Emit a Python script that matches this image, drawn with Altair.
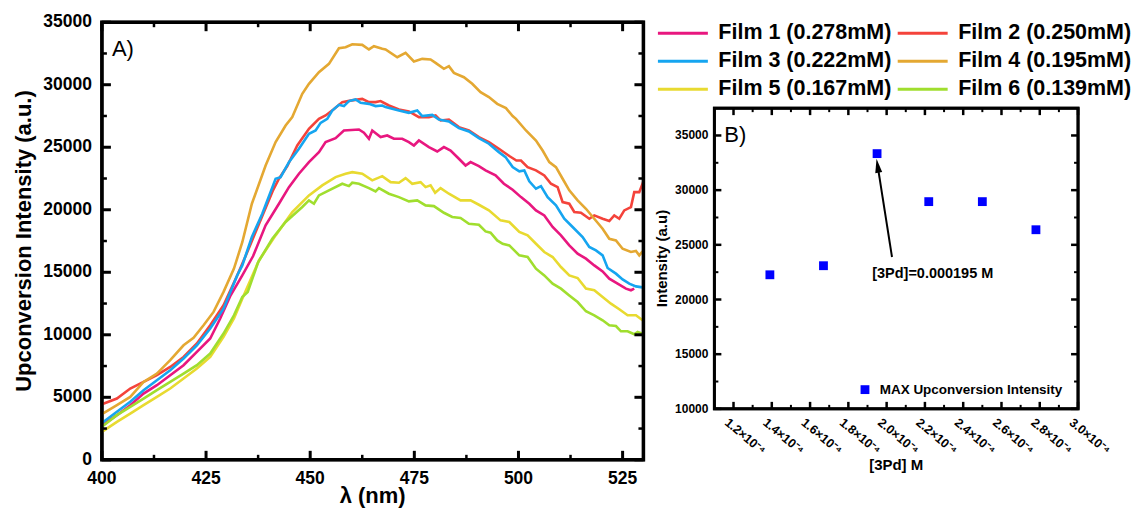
import altair as alt
import pandas as pd

FONT = "Liberation Sans"

films = ["Film 1 (0.278mM)", "Film 2 (0.250mM)", "Film 3 (0.222mM)",
         "Film 4 (0.195mM)", "Film 5 (0.167mM)", "Film 6 (0.139mM)"]
film_colors = ["#E8177F", "#F4433B", "#15A5F0", "#E4A832", "#E8DA30", "#A0DE2E"]

f1_wl = [400, 403.6, 406.8, 410, 413.2, 416.4, 419.6, 422.8, 426, 428.4,
         430.9, 433.7, 436.3, 439.3, 442.5, 444.9, 447.3, 449.7, 452.1, 453.7,
         456.1, 458.1, 461.7, 462.9, 464.1, 464.9, 466.9, 468.5, 470.1, 472.1,
         473.7, 474.9, 476.1, 478.5, 480.5, 482.1, 483.7, 485.7, 487.3, 488.5,
         490.5, 492.1, 494.5, 496.5, 498.6, 500.6, 502.6, 504.2, 506.2, 508.2,
         510.2, 512.2, 514.2, 516.2, 518.2, 520.2, 521.8, 523.8, 525.8, 527.0,
         527.8]
f1_int = [2750, 3570, 4370, 5300, 5970, 6770, 7570, 8630, 9700, 11300,
          13160, 14750, 16300, 18750, 20480, 21810, 22880, 23810, 24610, 25410,
          25730, 26340, 26420, 26160, 25680, 26340, 25810, 25940, 25680, 25680,
          25410, 25140, 25540, 25010, 24660, 25010, 24740, 24080, 23540, 23810,
          23490, 23150, 22750, 22080, 21600, 21010, 20480, 19950, 19550, 18620,
          17950, 17150, 16490, 16090, 15550, 15070, 14490, 14090, 13690, 13560,
          13690]

f2_wl = [400, 403.6, 406.8, 410, 413.2, 416.4, 419.6, 422.8, 426, 429.2,
         432.5, 434.5, 436.5, 438.5, 441, 442.5, 444.5, 446.9, 449.7, 452.1,
         453.7, 455.5, 457.7, 460, 462.5, 464.1, 465.7, 466.9, 468.9, 471.3,
         473.7, 476.1, 478.5, 480.1, 481.3, 483.3, 485.7, 488.1, 490.5, 492.9,
         495.3, 497.8, 499.5, 500.6, 502.2, 504.2, 506.2, 507.8, 509.4, 510.6,
         512.2, 513.4, 515, 517, 518.2, 520.2, 521.8, 523, 524.2, 525.4,
         527, 527.8, 529, 530]
f2_int = [4450, 4900, 5700, 6230, 6770, 7430, 8230, 9300, 10760, 12360,
          14760, 16300, 17900, 19500, 21500, 22480, 23500, 25140, 26470, 27270,
          27540, 28000, 28610, 28750, 28870, 28610, 28610, 28690, 28340, 28020,
          27860, 27410, 27410, 27540, 27140, 27220, 26610, 26340, 25810, 25410,
          24880, 24300, 23940, 23940, 23410, 23150, 22750, 22080, 21810, 20610,
          20480, 19820, 19760, 19280, 19550, 19280, 19100, 19550, 19280, 19950,
          20210, 21410, 21410, 22270]

f3_wl = [400, 403.6, 406.8, 410, 413.2, 416.4, 419.6, 422.8, 426, 429.2,
         432.5, 433.7, 436, 438.5, 441.7, 442.9, 444.9, 447.3, 449.7, 451.3,
         452.5, 454.1, 455.3, 456.9, 458.1, 459.3, 460.9, 462.1, 464.1, 465.7,
         467.3, 468.1, 471.3, 473.7, 475.7, 476.9, 479.3, 480.9, 483.3, 485.7,
         488.1, 490.5, 492.9, 495.3, 496.9, 498.6, 500.2, 501.4, 502.6, 504.2,
         505.4, 507, 509, 511, 513, 515.4, 517, 518.6, 520.2, 521.4,
         523.4, 525, 526.6, 528.2, 529.8]
f3_int = [2950, 3840, 4640, 5570, 6370, 7170, 8100, 9160, 10500, 12090,
          14760, 15550, 17820, 19680, 22480, 22610, 23810, 24880, 26080, 26340,
          26950, 27270, 27940, 28390, 28290, 28690, 28820, 28550, 28470, 28290,
          28340, 28210, 27940, 27750, 27940, 27490, 27590, 27220, 27060, 26530,
          26260, 25730, 25280, 24610, 24210, 23410, 23070, 23150, 22270, 21680,
          21890, 21010, 20350, 19280, 18620, 17820, 17020, 16750, 16350, 15340,
          14890, 14430, 14090, 13870, 13790]

f4_wl = [400, 403.6, 406.8, 410, 413.2, 416.4, 419.6, 422, 424.4, 426.8,
         429.2, 431.7, 433.7, 436, 439.3, 441.7, 444.1, 445.7, 448.1, 449.7,
         452.1, 454.5, 456.9, 458.5, 460.1, 462.5, 464.1, 465.3, 467.3, 468.1,
         470.9, 472.9, 474.9, 476.9, 478.9, 480.1, 482.1, 483.3, 484.5, 486.9,
         488.9, 490.9, 492.9, 494.9, 497, 498.6, 499.4, 501.8, 504.2, 505.8,
         507.4, 509, 510.6, 512.2, 514.2, 516.2, 518.2, 520.2, 521.8, 523.4,
         525, 527, 528.2, 529, 529.8]
f4_int = [3650, 4370, 5030, 6230, 6900, 7970, 9160, 9750, 10760, 11830,
          13430, 15290, 17400, 20480, 23540, 25410, 26740, 27410, 29270, 30070,
          31000, 31670, 32920, 33000, 33240, 33190, 32820, 33080, 32870, 32820,
          32200, 32550, 31860, 32070, 32020, 31750, 31270, 31480, 30950, 30600,
          30070, 29410, 29010, 28470, 28130, 27490, 27270, 26340, 25540, 24740,
          23810, 23410, 22480, 21550, 20750, 20080, 19280, 18480, 17680, 17550,
          16880, 16620, 16700, 16350, 16670]

f5_wl = [400, 403.6, 406.8, 410, 413.2, 416.4, 419.6, 422.8, 426, 429.2,
         431.7, 433.7, 437.7, 441.7, 445.7, 449.7, 452.9, 456.1, 458.5, 460.1,
         462.5, 464.9, 467.3, 469.3, 471.3, 472.9, 474.5, 476.5, 477.7, 478.9,
         480, 481.3, 483.3, 486.1, 488.5, 490.5, 492.9, 495.7, 497.8, 500.2,
         502.2, 504.2, 506.2, 508.2, 510.2, 512.2, 514.2, 516.2, 518.2, 520.2,
         522.2, 524.2, 526.2, 528.2, 529.8]
f5_int = [2240, 3040, 3700, 4370, 5030, 5700, 6500, 7300, 8230, 9830,
          11300, 12890, 15950, 17950, 19820, 21150, 21950, 22610, 22880, 23010,
          22880, 22350, 22690, 22210, 22160, 22530, 22080, 22210, 21810, 21950,
          21360, 21730, 21280, 20750, 20750, 20400, 19950, 19150, 19020, 18220,
          17950, 17280, 16620, 16220, 15420, 14750, 14540, 13690, 13560, 13020,
          12490, 12040, 11560, 11560, 11160]

f6_wl = [400, 403.6, 406.8, 410, 413.2, 416.4, 419.6, 422.8, 426, 429.2,
         431.7, 433.7, 435, 437.5, 440.9, 444.1, 448.1, 449.7, 450.9, 452.1,
         454.5, 457.7, 459.3, 460.1, 461.7, 464.1, 465.7, 466.5, 468.9, 471.3,
         473.7, 475.7, 477.7, 479.7, 482.1, 484.1, 486.1, 488.1, 490.5, 492.1,
         493.3, 494.9, 496.2, 497.8, 500.2, 502.2, 504.2, 506.2, 508.2, 510.2,
         512.2, 514.2, 516.2, 518.2, 520.2, 521.8, 523.4, 524.6, 526.2, 527.8,
         528.6, 529.8]
f6_int = [2640, 3570, 4240, 4900, 5570, 6230, 6900, 7570, 8500, 10100,
          11560, 13020, 13430, 15800, 17680, 19020, 20220, 20750, 20480, 21150,
          21550, 22080, 21890, 22160, 22080, 21730, 21470, 21730, 21280, 21010,
          20670, 20750, 20350, 20290, 19760, 19420, 19340, 18880, 18800, 18270,
          18160, 17550, 17280, 17150, 16350, 16220, 15290, 14750, 14090, 13690,
          13150, 12620, 11880, 11560, 11160, 10760, 10700, 10280, 10280, 10040,
          10220, 10090]

# Panel B data
b_conc = [1.39e-4, 1.67e-4, 1.95e-4, 2.22e-4, 2.50e-4, 2.78e-4]
b_int = [22260, 23090, 33340, 28950, 28950, 26380]
b_series = "MAX Upconversion Intensity"

# axis domains, tick values and axis texts
a_xdom = [400, 530]
a_ydom = [0, 35000]
b_xdom = [1.1e-4, 3.0e-4]
b_ydom = [10000, 37500]
a_xmajor = [400, 425, 450, 475, 500, 525]
a_xminor = [412.5, 437.5, 462.5, 487.5, 512.5]
a_ymajor = [0, 5000, 10000, 15000, 20000, 25000, 30000, 35000]
a_yminor = [2500, 7500, 12500, 17500, 22500, 27500, 32500]
b_xmajor = [1.2e-4, 1.4e-4, 1.6e-4, 1.8e-4, 2.0e-4, 2.2e-4, 2.4e-4, 2.6e-4, 2.8e-4, 3.0e-4]
b_xminor = [1.3e-4, 1.5e-4, 1.7e-4, 1.9e-4, 2.1e-4, 2.3e-4, 2.5e-4, 2.7e-4, 2.9e-4]
b_ymajor = [10000, 15000, 20000, 25000, 30000, 35000]
b_yminor = [12500, 17500, 22500, 27500, 32500]
a_xtitle = "λ (nm)"
a_ytitle = "Upconversion Intensity (a.u.)"
b_xtitle = "[3Pd] M"
b_ytitle = "Intensity (a.u)"

# annotation values (data coordinates)
arrow_tail_x = [2.028e-4]
arrow_tail_y = [23887]
arrow_head_x = [1.9529e-4]
arrow_head_y = [32237]
note_x = [1.9247e-4]
note_y = [22361]
note_text = ["[3Pd]=0.000195 M"]
labelA = {"x": [402.4], "y": [32843], "t": ["A)"]}
labelB = {"x": [1.152e-4], "y": [35033], "t": ["B)"]}

# ---------------- build data frames ----------------
rows = []
for name, wl, iv in zip(films, [f1_wl, f2_wl, f3_wl, f4_wl, f5_wl, f6_wl],
                        [f1_int, f2_int, f3_int, f4_int, f5_int, f6_int]):
    for w, v in zip(wl, iv):
        rows.append({"film": name, "wl": w, "I": v})
dfA = pd.DataFrame(rows)
dfB = pd.DataFrame({"conc": b_conc, "I": b_int, "series": [b_series] * len(b_conc)})

xA = alt.Scale(domain=a_xdom, nice=False, zero=False)
yA = alt.Scale(domain=a_ydom, nice=False, zero=False)
xB = alt.Scale(domain=b_xdom, nice=False, zero=False)
yB = alt.Scale(domain=b_ydom, nice=False, zero=False)


def X(f, s):
    return alt.X(f, scale=s, axis=None)


def Y(f, s):
    return alt.Y(f, scale=s, axis=None)


def frame(xs, ys, xdom, ydom, width):
    # closed outline through the four corners of the plot domain
    df = pd.DataFrame({
        "x": [xdom[0], xdom[1], xdom[1], xdom[0], xdom[0]],
        "y": [ydom[0], ydom[0], ydom[1], ydom[1], ydom[0]],
        "i": [0, 1, 2, 3, 4],
    })
    return alt.Chart(df).mark_line(strokeWidth=width, color="black",
                                   strokeCap="square", strokeJoin="miter").encode(
        x=X("x:Q", xs), y=Y("y:Q", ys), order="i:Q")


def tick_shape(length, thick):
    hw = round(thick / 2.0 / length, 4)
    return "M%s,-1H%sV0H%sZ" % (-hw, hw, -hw)


def tick_layer(xv, yv, xs, ys, length, thick, angle):
    df = pd.DataFrame({"x": xv, "y": yv})
    return alt.Chart(df).mark_point(shape=tick_shape(length, thick),
                                    size=(2 * length) ** 2, angle=angle,
                                    filled=True, color="black", opacity=1).encode(
        x=X("x:Q", xs), y=Y("y:Q", ys))


def all_ticks(xs, ys, xdom, ydom, xmaj, xmin, ymaj, ymin, big, small, tw, tw2):
    out = []
    for vals, L, T in ((xmaj, big, tw), (xmin, small, tw2)):
        out.append(tick_layer(vals, [ydom[0]] * len(vals), xs, ys, L, T, 0))
        out.append(tick_layer(vals, [ydom[1]] * len(vals), xs, ys, L, T, 180))
    for vals, L, T in ((ymaj, big, tw), (ymin, small, tw2)):
        out.append(tick_layer([xdom[0]] * len(vals), vals, xs, ys, L, T, 90))
        out.append(tick_layer([xdom[1]] * len(vals), vals, xs, ys, L, T, 270))
    return out


def texts(xvals, yvals, labels, xs, ys, **mk):
    df = pd.DataFrame({"x": xvals, "y": yvals, "t": labels})
    return alt.Chart(df).mark_text(font=FONT, color="black", **mk).encode(
        x=X("x:Q", xs), y=Y("y:Q", ys), text="t:N")


# ---------------- Panel A ----------------
lines = alt.Chart(dfA).mark_line(strokeWidth=2.6, clip=True).encode(
    x=X("wl:Q", xA),
    y=Y("I:Q", yA),
    color=alt.Color("film:N", scale=alt.Scale(domain=films, range=film_colors),
                    legend=alt.Legend(orient="none", legendX=555, legendY=-3,
                                      direction="horizontal", columns=2,
                                      symbolType="stroke", symbolSize=2500,
                                      symbolStrokeWidth=3, labelFontSize=21.5,
                                      labelFontWeight="bold", labelLimit=400,
                                      labelOffset=9, columnPadding=4, rowPadding=0,
                                      clipHeight=28, padding=0, title=None,
                                      labelColor="black")),
)

a_texts = [
    texts([a_xdom[0]] * len(a_ymajor), a_ymajor, [str(v) for v in a_ymajor], xA, yA,
          align="right", baseline="middle", fontSize=17.5, fontWeight="bold", xOffset=-10),
    texts(a_xmajor, [a_ydom[0]] * len(a_xmajor), [str(v) for v in a_xmajor], xA, yA,
          align="center", baseline="middle", fontSize=17.5, fontWeight="bold", yOffset=19),
    texts([sum(a_xdom) / 2], [a_ydom[0]], [a_xtitle], xA, yA,
          align="center", baseline="middle", fontSize=22, fontWeight="bold", yOffset=36),
    texts([a_xdom[0]], [sum(a_ydom) / 2], [a_ytitle], xA, yA,
          align="center", baseline="middle", fontSize=22, fontWeight="bold",
          angle=270, xOffset=-78),
    texts(labelA["x"], labelA["y"], labelA["t"], xA, yA,
          align="left", baseline="middle", fontSize=22),
]

panelA = alt.layer(
    lines, frame(xA, yA, a_xdom, a_ydom, 3.5),
    *all_ticks(xA, yA, a_xdom, a_ydom, a_xmajor, a_xminor, a_ymajor, a_yminor,
               9, 5, 3, 2.5),
    *a_texts
).properties(width=542, height=438)

# ---------------- Panel B ----------------
pts = alt.Chart(dfB).mark_square(size=78, opacity=1).encode(
    x=X("conc:Q", xB),
    y=Y("I:Q", yB),
    color=alt.Color("series:N", scale=alt.Scale(domain=[b_series], range=["#0000FF"]),
                    legend=alt.Legend(orient="none", legendX=144, legendY=361,
                                      symbolType="square", symbolSize=78,
                                      symbolOpacity=1, labelFontSize=13.5,
                                      labelFontWeight="bold", labelLimit=400,
                                      labelOffset=8, padding=0, title=None,
                                      labelColor="black")),
)

dfArrow = pd.DataFrame({"x": arrow_tail_x, "y": arrow_tail_y,
                        "x2": arrow_head_x, "y2": arrow_head_y})
arrow_line = alt.Chart(dfArrow).mark_rule(strokeWidth=2, color="black").encode(
    x=X("x:Q", xB), y=Y("y:Q", yB), x2="x2:Q", y2="y2:Q")
arrow_head = alt.Chart(dfArrow).mark_point(
    shape="M0,-1L0.5,1L-0.5,1Z", size=196, angle=351, filled=True,
    color="black", opacity=1).encode(x=X("x2:Q", xB), y=Y("y2:Q", yB))

b_xlabels = ["%.1f×10⁻⁴" % (v * 1e4) for v in b_xmajor]
b_texts = [
    texts([b_xdom[0]] * len(b_ymajor), b_ymajor, [str(v) for v in b_ymajor], xB, yB,
          align="right", baseline="middle", fontSize=12, fontWeight="bold", xOffset=-6),
    texts(b_xmajor, [b_ydom[0]] * len(b_xmajor), b_xlabels, xB, yB,
          align="left", baseline="middle", fontSize=12.5, fontWeight="bold",
          angle=40, xOffset=-7, yOffset=12),
    texts([sum(b_xdom) / 2], [b_ydom[0]], [b_xtitle], xB, yB,
          align="center", baseline="middle", fontSize=15, fontWeight="bold", yOffset=56),
    texts([b_xdom[0]], [sum(b_ydom) / 2], [b_ytitle], xB, yB,
          align="center", baseline="middle", fontSize=15, fontWeight="bold",
          angle=270, xOffset=-52),
    texts(note_x, note_y, note_text, xB, yB,
          align="left", baseline="middle", fontSize=14.5, fontWeight="bold"),
    texts(labelB["x"], labelB["y"], labelB["t"], xB, yB,
          align="left", baseline="middle", fontSize=22),
]

panelB = alt.layer(
    pts, arrow_line, arrow_head, frame(xB, yB, b_xdom, b_ydom, 2.7),
    *all_ticks(xB, yB, b_xdom, b_ydom, b_xmajor, b_xminor, b_ymajor, b_yminor,
               7, 4, 2.5, 2),
    *b_texts
).properties(width=364, height=301)

spacer = alt.Chart(pd.DataFrame({"v": [0]})).mark_point(opacity=0).encode(
    x=alt.value(0), y=alt.value(0)).properties(
    width=364, height=1, view=alt.ViewBackground(stroke="transparent", strokeWidth=0))

right = alt.vconcat(spacer, panelB, spacing=85, bounds="flush")

chart = alt.hconcat(panelA, right, spacing=71, bounds="flush").resolve_scale(
    color="independent").resolve_legend(color="independent").properties(
    padding={"left": 11, "top": 11, "right": 0, "bottom": 0}
).configure(font=FONT).configure_view(stroke="black", strokeWidth=3).configure_legend(
    labelFont=FONT)

chart.save("out.html", embed_options={"renderer": "svg", "actions": False})
